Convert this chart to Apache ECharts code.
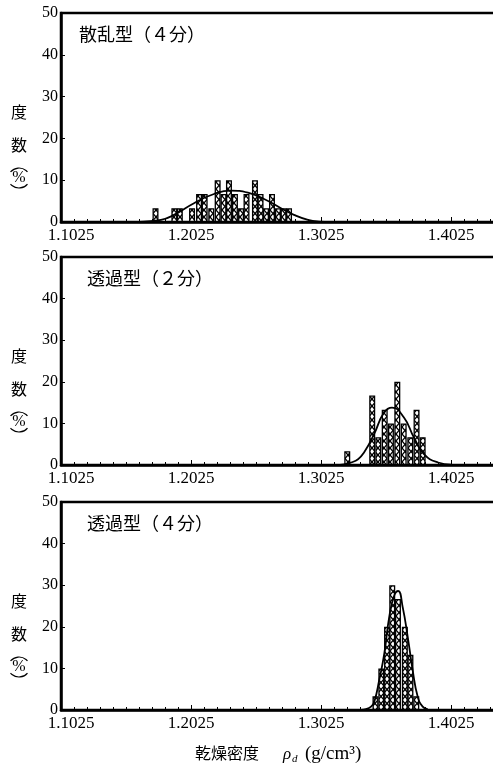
<!DOCTYPE html>
<html><head><meta charset="utf-8">
<script src="https://cdn.jsdelivr.net/npm/echarts@6/dist/echarts.min.js"></script>
<style>html,body{margin:0;padding:0;background:#fff}#c{width:493px;height:770px}</style>
</head><body><div id="c"></div><script>
// Panel titles and axis ticks
const panelTitles = ['散乱型（４分）', '透過型（２分）', '透過型（４分）'];
const xTickStart = 1.1025;   // first labelled density
const xTickStep = 0.1;
const xSpan = 0.35;          // density range drawn past the first tick
const yTicks = [0, 10, 20, 30, 40, 50];

// Histogram bins: centre dry density (g/cm3) and frequency (%)
const scatter4Density = [1.1752, 1.1897, 1.1939, 1.2033, 1.2087, 1.2130, 1.2181, 1.2230, 1.2275, 1.2317,
  1.2363, 1.2410, 1.2452, 1.2517, 1.2560, 1.2602, 1.2648, 1.2694, 1.2737, 1.2779];
const scatter4Freq = [3.3, 3.3, 3.3, 3.3, 6.7, 6.7, 3.3, 10, 6.7, 10,
  6.7, 3.3, 6.7, 10, 6.7, 3.3, 6.7, 3.3, 3.3, 3.3];

const trans2Density = [1.3227, 1.3419, 1.3466, 1.3515, 1.3563, 1.3612, 1.3661, 1.3712, 1.3760, 1.3807];
const trans2Freq = [3.3, 16.7, 6.7, 13.3, 10, 20, 10, 6.7, 13.3, 6.7];

const trans4Density = [1.3444, 1.3489, 1.3533, 1.3573, 1.3617, 1.3670, 1.3713, 1.3758];
const trans4Freq = [3.3, 10, 20, 30, 26.7, 20, 13.3, 3.3];

// Fitted distribution curves
const scatter4CurveX = [1.1600, 1.1663, 1.1794, 1.1894, 1.2048, 1.2202, 1.2333, 1.2463, 1.2587, 1.2717, 1.2817, 1.2925, 1.3010, 1.3100];
const scatter4CurveY = [0.0, 0.1, 0.5, 1.7, 4.5, 6.7, 7.5, 7.0, 5.5, 3.3, 1.7, 0.5, 0.1, 0.0];

const trans2CurveX = [1.3140, 1.3202, 1.3256, 1.3310, 1.3356, 1.3433, 1.3510, 1.3571, 1.3663, 1.3740, 1.3817, 1.3925, 1.4025];
const trans2CurveY = [0.0, 0.15, 0.6, 1.4, 3.0, 7.4, 12.6, 13.8, 11.4, 6.6, 2.6, 0.6, 0.1];

const trans4CurveX = [1.3333, 1.3371, 1.3410, 1.3435, 1.3473, 1.3512, 1.3550, 1.3589, 1.3619, 1.3653, 1.3692, 1.3730, 1.3769, 1.3807, 1.3846];
const trans4CurveY = [0.05, 0.2, 0.8, 2.0, 7.2, 13.6, 22.4, 27.6, 28.6, 24.8, 17.6, 9.6, 3.2, 0.8, 0.2];

const panels = [
  { dens: scatter4Density, freq: scatter4Freq, cx: scatter4CurveX, cy: scatter4CurveY },
  { dens: trans2Density, freq: trans2Freq, cx: trans2CurveX, cy: trans2CurveY },
  { dens: trans4Density, freq: trans4Freq, cx: trans4CurveX, cy: trans4CurveY }
];

const SERIF = '"Liberation Serif", "DejaVu Serif", "Noto Sans CJK JP", serif';
const CJK = '"Noto Sans CJK JP", "Noto Sans CJK SC", sans-serif';

// the axis runs in offsets from the first labelled density so ticks fall on 1.1025, 1.2025, ...
const off = d => +(d - xTickStart).toFixed(6);

// cross-hatch fill for the histogram bars
const hatch = document.createElement('canvas');
hatch.width = 6; hatch.height = 7;
(function () {
  const g = hatch.getContext('2d');
  g.fillStyle = '#fff'; g.fillRect(0, 0, 6, 7);
  g.strokeStyle = '#000'; g.lineWidth = 1.3;
  g.beginPath();
  g.moveTo(0, 0); g.lineTo(6, 7);
  g.moveTo(6, 0); g.lineTo(0, 7);
  g.stroke();
})();

const gridTops = [13, 257, 502];
const gridH = [209, 208, 208];

const grids = [], xAxes = [], yAxes = [], series = [], graphics = [];
panels.forEach((p, i) => {
  // the frame runs on past the right edge of the page
  grids.push({ left: 61, top: gridTops[i], width: 455, height: gridH[i], outerBoundsMode: 'none',
    containLabel: false,
    show: true, borderColor: '#000', borderWidth: 2.5, backgroundColor: 'transparent' });
  xAxes.push({
    type: 'value', gridIndex: i, min: 0, max: xSpan, interval: xTickStep,
    axisLine: { lineStyle: { color: '#000', width: 2.5 } },
    axisTick: { inside: true, length: 5, lineStyle: { color: '#000', width: 1 } },
    minorTick: { show: true, splitNumber: 10, length: 3, lineStyle: { color: '#000', width: 1 } },
    splitLine: { show: false },
    axisLabel: {
      color: '#000', fontFamily: SERIF, fontSize: 17, margin: 5, showMaxLabel: false,
      formatter: v => v < 1e-6 ? '{m|' + (v + xTickStart).toFixed(4) + '}' : (v + xTickStart).toFixed(4),
      rich: { m: { fontFamily: SERIF, fontSize: 17, color: '#000', padding: [0, 0, 0, 20] } }
    }
  });
  yAxes.push({
    type: 'value', gridIndex: i, min: 0, max: 50, interval: 10,
    axisLine: { show: true, lineStyle: { color: '#000', width: 2.5 } },
    axisTick: { show: true, inside: true, length: 4, lineStyle: { color: '#000', width: 1 } },
    splitLine: { show: false },
    axisLabel: { color: '#000', fontFamily: SERIF, fontSize: 16, margin: 3 }
  });
  series.push({
    type: 'bar', xAxisIndex: i, yAxisIndex: i, barWidth: 6, barGap: '-100%',
    data: p.dens.map((d, k) => [off(d), p.freq[k]]),
    itemStyle: { color: { image: hatch, repeat: 'repeat' }, borderColor: '#000', borderWidth: 1.3 },
    z: 2
  });
  series.push({
    type: 'line', xAxisIndex: i, yAxisIndex: i, smooth: true, showSymbol: false,
    data: p.cx.map((d, k) => [off(d), p.cy[k]]),
    lineStyle: { color: '#000', width: 1.8 }, z: 3
  });
  graphics.push({
    type: 'text', left: i === 0 ? 79 : 87, top: gridTops[i] + 12,
    style: { text: panelTitles[i], font: '18px ' + CJK, fill: '#000' }
  });
  // vertical y-axis caption: 度 / 数 / (%) with the brackets as arcs above and below
  const t = gridTops[i];
  graphics.push({ type: 'text', x: 19, y: t + 99, style: { text: '度', font: '16px ' + CJK, fill: '#000', textAlign: 'center', textVerticalAlign: 'middle' } });
  graphics.push({ type: 'text', x: 19, y: t + 132, style: { text: '数', font: '16px ' + CJK, fill: '#000', textAlign: 'center', textVerticalAlign: 'middle' } });
  graphics.push({ type: 'text', x: 19, y: t + 165, style: { text: '%', font: '16px ' + SERIF, fill: '#000', textAlign: 'center', textVerticalAlign: 'middle' } });
  graphics.push({ type: 'arc', shape: { cx: 19, cy: t + 166, r: 11, startAngle: Math.PI * 1.22, endAngle: Math.PI * 1.78 },
    style: { stroke: '#000', fill: null, lineWidth: 1.2 } });
  graphics.push({ type: 'arc', shape: { cx: 19, cy: t + 164, r: 11, startAngle: Math.PI * 0.22, endAngle: Math.PI * 0.78 },
    style: { stroke: '#000', fill: null, lineWidth: 1.2 } });
});

// x-axis caption
graphics.push({ type: 'text', left: 195, top: 745, style: { text: '乾燥密度', font: '16px ' + CJK, fill: '#000' } });
graphics.push({ type: 'text', left: 283, top: 746, style: { text: 'ρ', font: 'italic 17px ' + SERIF, fill: '#000' } });
graphics.push({ type: 'text', left: 292, top: 754, style: { text: 'd', font: 'italic 11px ' + SERIF, fill: '#000' } });
graphics.push({ type: 'text', left: 305, top: 745, style: { text: '(g/cm³)', font: '19px ' + SERIF, fill: '#000' } });

const chart = echarts.init(document.getElementById('c'), null, { renderer: 'canvas' });
chart.setOption({
  animation: false,
  backgroundColor: '#fff',
  grid: grids, xAxis: xAxes, yAxis: yAxes, series: series, graphic: graphics
});
</script></body></html>
